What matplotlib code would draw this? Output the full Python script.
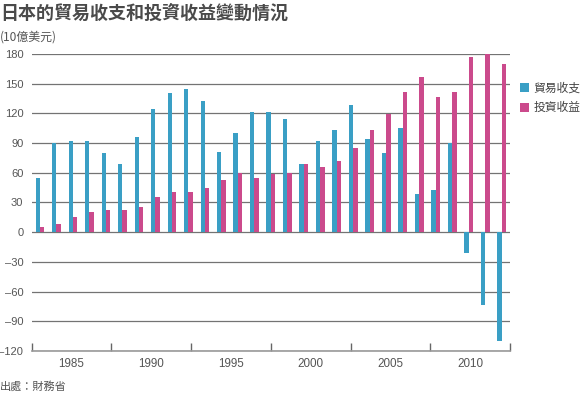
import matplotlib
matplotlib.use("Agg")
import matplotlib.pyplot as plt
import numpy as np

plt.rcParams['font.family'] = ['Liberation Sans', 'Noto Sans CJK TC', 'DejaVu Sans']

years = list(range(1985, 2014))
trade_balance = [54.5, 89.8, 92.2, 92.0, 79.7, 69.0, 95.9, 124.5, 140.3, 144.3,
                 132.2, 81.0, 99.9, 121.5, 121.5, 114.4, 68.6, 92.2, 103.3, 128.2,
                 93.9, 80.0, 105.3, 38.7, 42.4, 90.2, -20.6, -73.8, -109.5]
investment_income = [5.0, 8.0, 15.5, 20.0, 22.0, 22.0, 25.6, 35.3, 40.4, 40.4,
                     44.7, 52.8, 60.2, 54.5, 58.5, 60.2, 68.6, 66.0, 71.7, 85.1,
                     103.3, 119.8, 141.3, 156.5, 137.0, 141.7, 177.0, 181.0, 170.0]
tick_labels = ['1985', '1990', '1995', '2000', '2005', '2010']
yticks = [-120, -90, -60, -30, 0, 30, 60, 90, 120, 150, 180]
series_names = ['貿易收支', '投資收益']

BLUE = '#3a9fc5'
PINK = '#cb4a8c'
TXT = '#555555'

fig = plt.figure(figsize=(5.84, 3.94), dpi=100)
ax = fig.add_axes([31.7 / 584, 1 - 351 / 394, (510 - 31.7) / 584, (351 - 54) / 394])

x = np.arange(len(years))
w = 0.265
ax.bar(x - w / 2, trade_balance, width=w, color=BLUE, zorder=3, label=series_names[0])
ax.bar(x + w / 2, investment_income, width=w, color=PINK, zorder=3, label=series_names[1])

n = len(years)
ax.set_xlim(-0.5, n - 0.5)
ax.set_ylim(-120, 180)

# gridlines
ax.set_yticks(yticks)
ax.yaxis.grid(True, color='#737373', lw=0.9, zorder=1)
ax.set_axisbelow(True)
ax.tick_params(axis='y', length=0, pad=6, labelsize=8, labelcolor=TXT)
ax.set_yticklabels([str(v).replace('-', '\u2013') for v in yticks])

# x axis: evenly spaced boundary ticks, labels in between
edges = np.linspace(-0.5, n - 0.5, 7)
mids = (edges[:-1] + edges[1:]) / 2
ax.set_xticks(edges)
ax.set_xticklabels([''] * len(edges))
ax.set_xticks(mids, minor=True)
ax.set_xticklabels(tick_labels, minor=True)
ax.tick_params(axis='x', which='major', direction='in', length=6, width=1, color='#666666')
ax.tick_params(axis='x', which='minor', length=0, pad=5, labelsize=8.4, labelcolor=TXT)

for s in ['left', 'right', 'top']:
    ax.spines[s].set_visible(False)
ax.spines['bottom'].set_color('#999999')
ax.spines['bottom'].set_linewidth(1.2)
ax.spines['bottom'].set_zorder(4)

# legend
leg = fig.legend(loc='upper left', bbox_to_anchor=(515 / 584, 1 - 77 / 394),
                 frameon=False, handlelength=0.8, handleheight=0.8,
                 handletextpad=0.35, labelspacing=0.55, borderaxespad=0,
                 prop={'family': ['Noto Sans CJK TC', 'DejaVu Sans'], 'size': 8.5})
for t in leg.get_texts():
    t.set_color('#444444')

# title & notes
fig.text(0.0, 1 - 13 / 394, '日本的貿易收支和投資收益變動情況', fontsize=13, fontweight='bold',
         color='#4a4a4a', va='center', ha='left',
         family=['Noto Sans CJK TC', 'DejaVu Sans'])
fig.text(0.0, 1 - 37 / 394, '(10億美元)', fontsize=8.6, color=TXT, va='center', ha='left',
         family=['Noto Sans CJK TC', 'DejaVu Sans'])
fig.text(0.0, 1 - 386 / 394, '出處：財務省', fontsize=8, color=TXT, va='center', ha='left',
         family=['Noto Sans CJK TC', 'DejaVu Sans'])

fig.savefig('out.png', dpi=100)
